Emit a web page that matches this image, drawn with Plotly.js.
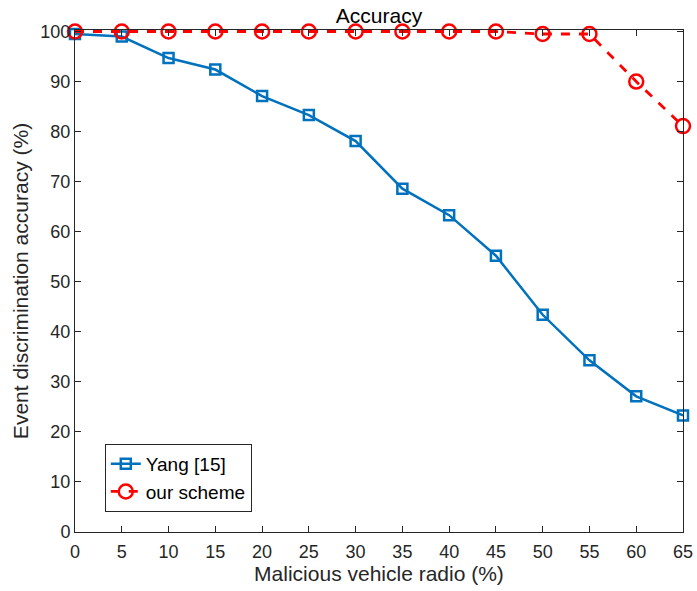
<!DOCTYPE html>
<html>
<head>
<meta charset="utf-8">
<script src="https://cdn.plot.ly/plotly-3.0.1.min.js"></script>
<style>html,body{margin:0;padding:0;background:#fff;}#chart{width:697px;height:591px;}</style>
</head>
<body>
<div id="chart"></div>
<script>
const ratio = [0, 5, 10, 15, 20, 25, 30, 35, 40, 45, 50, 55, 60, 65];
const yang = [99.5, 99.0, 94.7, 92.4, 87.1, 83.3, 78.1, 68.6, 63.3, 55.2, 43.4, 34.3, 27.1, 23.3];
const ours = [100, 100, 100, 100, 100, 100, 100, 100, 100, 100, 99.5, 99.5, 90.0, 81.1];
const xTicks = [0, 5, 10, 15, 20, 25, 30, 35, 40, 45, 50, 55, 60, 65];
const yTicks = [0, 10, 20, 30, 40, 50, 60, 70, 80, 90, 100];

const font = 'Liberation Sans, Arial, Helvetica, sans-serif';
const axisCol = '#262626';

const traces = [
  {
    x: ratio, y: yang, name: 'Yang [15]', type: 'scatter', mode: 'lines+markers',
    line: {color: '#0072BD', width: 2.5},
    marker: {symbol: 'square-open', size: 10, color: '#0072BD', line: {width: 2.5, color: '#0072BD'}},
    cliponaxis: false
  },
  {
    x: ratio, y: ours, name: 'our scheme', type: 'scatter', mode: 'lines+markers',
    line: {color: '#FF0000', width: 2.8, dash: 'dash'},
    marker: {symbol: 'circle-open', size: 14, color: '#FF0000', line: {width: 2.5, color: '#FF0000'}},
    cliponaxis: false
  }
];

const layout = {
  width: 697, height: 591,
  margin: {l: 75, r: 14, t: 30, b: 59},
  paper_bgcolor: '#fff', plot_bgcolor: '#fff',
  font: {family: font, size: 18, color: axisCol},
  title: {text: 'Accuracy', font: {family: font, size: 21, color: '#000'}, xref: 'paper', x: 0.5, xanchor: 'center', yref: 'container', y: 1 - 16/591, yanchor: 'middle'},
  showlegend: true,
  legend: {
    x: 0.049, y: 0.04, xanchor: 'left', yanchor: 'bottom',
    bordercolor: axisCol, borderwidth: 1, bgcolor: '#fff',
    font: {family: font, size: 19, color: '#000'},
    tracegroupgap: 0, itemwidth: 30
  },
  xaxis: {
    range: [0, 65], tickvals: xTicks, ticktext: xTicks.map(String),
    showgrid: false, zeroline: false, showline: true, linecolor: axisCol, linewidth: 1, mirror: 'ticks',
    ticks: 'inside', ticklen: 6, tickcolor: axisCol, tickfont: {size: 18, color: axisCol},
    ticklabelstandoff: 3,
    title: {text: 'Malicious vehicle radio (%)', font: {size: 21, color: axisCol}, standoff: 4}
  },
  yaxis: {
    range: [0, 100.3], tickvals: yTicks, ticktext: yTicks.map(String),
    showgrid: false, zeroline: false, showline: true, linecolor: axisCol, linewidth: 1, mirror: 'ticks',
    ticks: 'inside', ticklen: 6, tickcolor: axisCol, tickfont: {size: 18, color: axisCol},
    title: {text: 'Event discrimination accuracy (%)', font: {size: 21, color: axisCol}, standoff: 6}
  }
};

Plotly.newPlot('chart', traces, layout, {displayModeBar: false, staticPlot: true});
</script>
</body>
</html>
